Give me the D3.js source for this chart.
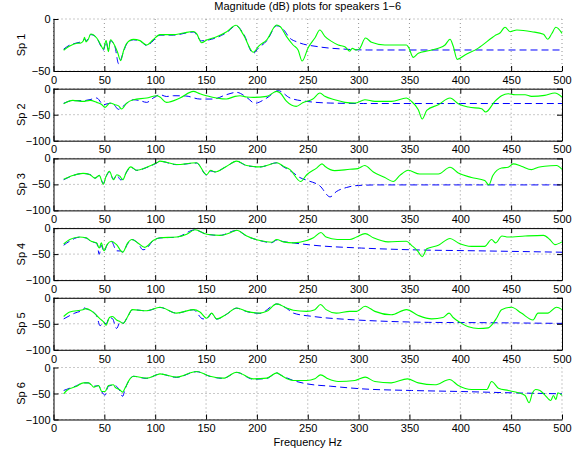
<!DOCTYPE html>
<html>
<head>
<meta charset="utf-8">
<script src="https://cdn.jsdelivr.net/npm/d3@7"></script>
<style>
  body { margin: 0; background: #fff; }
  text { font-family: "Liberation Sans", Arial, sans-serif; font-size: 11px; fill: #000; }
</style>
</head>
<body>
<svg id="canvas" width="576" height="458"></svg>
<script>
/************* Data **************/
var title = "Magnitude (dB) plots for speakers 1\u22126";
var xLabel = "Frequency Hz";
var speakers = ["Sp 1", "Sp 2", "Sp 3", "Sp 4", "Sp 5", "Sp 6"];
var freqTicks = [0, 50, 100, 150, 200, 250, 300, 350, 400, 450, 500];
var dbTicksFirst = [-50, 0];
var dbTicks = [-100, -50, 0];

// measured response (green), [Hz, dB]
var measured1 = [[10,-30],[16,-26],[23,-23.4],[27,-23],[29.4,-21],[30.5,-17.6],[32,-22],[34,-20],[36.6,-14.4],[42.5,-18.3],[46,-24],[49,-29],[51.7,-20.8],[54,-31.4],[56,-20],[60.5,-26.3],[63,-32],[66,-40],[69,-30],[72,-23.4],[78.6,-19.6],[85,-20.8],[91.6,-25],[98,-20],[104.7,-15],[117.8,-15],[127.6,-13.5],[137.5,-12],[140.7,-14],[145.6,-22.8],[150.6,-20.2],[160.4,-17],[170.3,-12.2],[179.5,-6],[186.7,-15],[196.5,-32],[201.5,-26.3],[209.7,-20],[219.5,-5.8],[223,-7.4],[229,-16.7],[235.6,-25],[240.5,-29.8],[244.5,-40.4],[250.4,-27.6],[257,-18.3],[261.9,-10.6],[266.8,-16.7],[273.4,-21.5],[280,-25],[286.5,-26.6],[291.4,-31],[293.7,-28.2],[298,-29.8],[301,-28.5],[306.8,-18.3],[312.7,-22.4],[325.8,-25],[347,-25],[349,-27],[353.8,-36.9],[358.7,-33],[368.5,-30.5],[378.4,-28.2],[385,-25],[389.9,-19.5],[393,-26],[397,-38.8],[404.6,-34.6],[417.7,-28],[430.8,-18.3],[434,-16],[439,-13.5],[444,-8],[449,-12.2],[455.6,-10.6],[470.3,-12.2],[481.8,-14.7],[486,-19.5],[490,-14],[494,-8],[500,-13.8]];
var measured2 = [[10,-28.8],[19,-22.4],[29,-24.4],[35.9,-22.4],[42.5,-26.3],[47,-30],[50.7,-35.9],[55.6,-27.6],[60.5,-30.8],[64,-33],[67,-39.1],[72,-27.6],[78.6,-21.2],[91.6,-17.9],[101.5,-13.5],[104.7,-16],[111,-26.3],[124.4,-17.9],[137.5,-5.1],[144,-9.6],[150.6,-13.5],[170,-19.9],[178.5,-14.7],[183.4,-13.5],[190,-16],[196.5,-16.7],[209.7,-14.7],[219.5,-5.1],[223,-8.3],[229,-24],[238.7,-34],[245,-27],[255,-19.9],[262,-8.3],[266.8,-14.7],[276.6,-21.2],[286.5,-26.3],[296.4,-27.6],[306.2,-21.2],[316,-24.4],[332.4,-24.4],[347,-17.9],[352,-24.4],[358.7,-40.4],[362.6,-58.3],[367,-41.7],[378.4,-30.8],[389.9,-17.9],[398,-28.8],[408,-35.3],[421,-38.5],[424.9,-44.9],[434,-24.4],[440.6,-13.5],[447,-9.6],[453.9,-11.5],[463.7,-11.5],[470,-14.7],[483,-12.8],[493,-8.3],[500,-16]];
var measured3 = [[10,-39.9],[19,-32.7],[29,-28.8],[35.9,-31.4],[40.8,-37.9],[45,-32.7],[49,-49.7],[51.7,-34.6],[55,-24.8],[59,-41.2],[62.2,-31.4],[65.5,-34.6],[68,-41.2],[72,-24.8],[76,-16.3],[81.9,-22.9],[91.6,-17],[101.5,-8.5],[104.7,-5.2],[121,-11.8],[140.7,-8.5],[150.6,-31.4],[154.5,-22.9],[158.8,-26.1],[170.3,-15],[180,-5.2],[190,-13.7],[203,-16.3],[209.7,-13.7],[219.5,-8.5],[226,-15],[232.6,-21.6],[243,-44.4],[249,-31.4],[259,-18.3],[264,-10.5],[266.8,-15],[276.6,-23.5],[291.4,-20.9],[299.4,-19.6],[306,-13.7],[314.5,-26.1],[325.8,-36.6],[334,-44.4],[340.6,-32.7],[348.8,-22.9],[360,-30],[378.4,-30],[389.9,-17],[398,-28.1],[411,-36.6],[424,-42.5],[428,-51],[432,-32.7],[440.6,-18.3],[447,-17],[452,-10.5],[460,-15],[470,-21.6],[476.7,-17],[483,-15],[494.6,-13.7],[500,-21]];
var measured4 = [[10,-30.5],[16,-21.9],[25.6,-17.2],[32,-18.6],[37,-25.2],[42.5,-28.5],[45,-38.4],[47,-28.5],[49.6,-43.7],[52.6,-31.8],[57,-25.2],[62,-31.8],[68,-46.4],[73,-28.5],[77,-21.9],[83,-28.5],[89.8,-37.1],[98,-23.9],[104.7,-18.6],[121,-17.2],[131,-11.9],[139,-3.3],[150.6,-11.9],[163.6,-13.9],[176.7,-6.6],[180,-4],[190,-15.2],[203,-23.9],[214.5,-27.2],[219.5,-22],[226,-26.5],[235.8,-28.5],[249,-23.9],[255.6,-18.6],[263,-8.6],[268,-17.2],[279,-21.9],[291.4,-21.9],[298,-17.2],[306.4,-10.6],[314.5,-18.6],[329,-26.5],[347,-25.2],[352,-33.1],[358,-43.7],[362.6,-55],[367,-39.8],[378.4,-33.1],[389.9,-19.9],[398,-28.5],[411,-35.1],[424,-35.1],[430.8,-21.9],[434.6,-28.5],[441,-15.2],[447,-17.2],[463.7,-15.2],[481.8,-13.9],[488,-21.9],[493,-31.8],[500,-26.5]];
var measured5 = [[10,-36],[16,-27.4],[29,-22.8],[32,-20.8],[37,-24.8],[42.5,-34],[45.8,-40.6],[49,-45.9],[51.7,-52.5],[55,-37.9],[58,-36],[62,-42.6],[65.5,-45.9],[68.6,-49.2],[72,-39.3],[77.6,-22.8],[91.6,-24.8],[104.7,-18.2],[121,-29.4],[137.5,-22.8],[144,-27.4],[150.6,-39.3],[155.5,-29.4],[160.4,-40.6],[170.3,-31.4],[180,-19.5],[190,-26.1],[203,-29.4],[209.7,-26.1],[219.5,-11.6],[229,-19.5],[235.8,-24],[249,-26.1],[257,-22.8],[262.6,-12.9],[268,-22.8],[278,-29.4],[291.4,-26.1],[298,-26.1],[306.4,-16.2],[316,-26.1],[332,-32.7],[347,-22.8],[358.7,-34],[371.8,-40.6],[383,-37.9],[389,-29.4],[393,-37.9],[399.7,-47.2],[408,-55.8],[417.7,-59.1],[427.5,-57.8],[430.8,-52.5],[435.6,-39.3],[440.6,-22.8],[450.4,-18.2],[460,-29.4],[471.5,-42.6],[476.4,-29.4],[486,-29.4],[494.6,-18.2],[500,-22.8]];
var measured6 = [[10,-50.6],[13,-44.2],[22.8,-35.9],[29.4,-29.5],[34,-29.5],[37,-33],[39.6,-37.8],[44.3,-34.6],[47.5,-46.2],[50.7,-46.2],[54,-34.6],[59,-33.3],[60.5,-37.8],[64.8,-42.3],[68,-47.4],[70.3,-39.7],[75.2,-21.8],[78.6,-16.7],[91.6,-20.5],[101.5,-14.1],[104.7,-12.2],[121,-18.6],[140.7,-7.7],[153.8,-16.7],[167,-20.5],[180,-9],[196.5,-21.8],[209.7,-20.5],[219.5,-10.3],[223,-14.1],[229,-21],[235.8,-25],[249,-25],[257,-21.8],[262.6,-14.1],[270,-21.8],[280,-26.9],[296.4,-25],[306.4,-18.6],[316,-26.9],[332,-29.5],[348,-21.8],[358.7,-29.5],[375,-33.3],[389.4,-23.1],[398,-34.6],[411,-42.3],[426,-42.3],[430.8,-26.9],[437.5,-39.7],[447.3,-44.2],[457,-48.7],[463.7,-53.8],[467.6,-67.9],[471,-48.7],[474,-42.3],[478.3,-44.2],[483,-52.5],[489,-63.5],[491.5,-53.8],[494,-61.5],[496,-48.7],[500,-53.8]];

// model response (blue dashed), [Hz, dB]
var model1 = [[10,-29],[16,-25],[23,-23],[29,-21],[30.5,-19],[32,-21],[36.6,-15],[42.5,-18],[46,-25],[49,-30],[51.7,-22],[54,-29],[56,-21],[60.5,-27],[64,-43],[69,-31],[72,-24],[78.6,-20],[85,-21],[91.6,-25.5],[98,-21],[104.7,-15.5],[117.8,-15.5],[137.5,-12.5],[145.6,-21],[150.6,-20.5],[170.3,-13],[179.5,-6.5],[186.7,-14],[196.5,-33],[201.5,-28],[209.7,-21],[219.5,-6.5],[226,-10],[232,-18],[240.5,-22.4],[260,-26.6],[286.5,-29],[309,-29.8],[400,-29.8],[500,-29.8]];
var model2 = [[10,-28],[19,-23],[29,-23],[35.9,-21],[42.5,-17.9],[49,-30.8],[55.6,-28],[60,-32],[63.8,-39.7],[67,-36],[72,-28],[78.6,-21.2],[85,-23],[91.6,-26.3],[98,-18],[104.7,-11.5],[111,-15],[117.8,-13.5],[130,-14],[144,-19.9],[157,-19.9],[170,-11.5],[180,-7],[190,-16.7],[198,-28],[209.7,-17.9],[221,-3.8],[232.6,-17.9],[249,-24.4],[272,-27.6],[305,-28.5],[400,-28.5],[500,-28.5]];
var model3 = [[10,-41],[19,-33],[29,-29],[35.9,-31],[40.8,-38],[45,-33],[49,-48],[51.7,-35],[55,-26],[59,-40],[62.2,-32],[66,-41.2],[68,-40],[72,-26],[76,-17],[81.9,-23],[91.6,-17.5],[101.5,-9],[104.7,-5.5],[121,-12],[140.7,-9],[150.6,-32],[154.5,-24],[158.8,-26],[170.3,-15],[180,-5.5],[190,-14],[203,-16.5],[219.5,-8.5],[226,-16],[236,-28],[242,-36.6],[249,-42],[262,-53],[272,-74],[278,-64],[288,-56],[300,-52],[320,-51],[400,-51],[500,-51]];
var model4 = [[10,-33],[16,-25],[25.6,-17.5],[32,-19],[37,-26],[42.5,-29],[45,-50.4],[47,-33],[49.6,-45],[52.6,-33],[57,-26],[62,-43.7],[66,-44],[68,-46],[73,-30],[77,-22],[83,-29],[88,-41.7],[91,-40],[98,-24],[104.7,-19],[121,-17.5],[139,-3.5],[150.6,-12],[163.6,-14],[180,-4.5],[190,-15.5],[203,-24],[214.5,-28],[219.5,-23],[226,-26],[235.8,-28.5],[255.6,-33],[303,-38.4],[352,-41.7],[417.7,-43.7],[500,-46.4]];
var model5 = [[10,-40.6],[21,-29.4],[29,-23],[30.5,-19.5],[32,-21],[37,-25],[42.5,-35],[45.8,-53.8],[49,-47],[51.7,-50],[55,-38],[58,-40],[62,-59],[65.5,-47],[68.6,-49],[72,-40],[77.6,-23],[91.6,-25],[104.7,-18.5],[121,-29.5],[137.5,-23],[147,-40.6],[152,-38],[155.5,-30],[160.4,-41],[170.3,-31.5],[180,-20],[190,-26.5],[203,-30],[219.5,-12],[229,-20],[235.8,-29.4],[255.6,-36],[286.5,-41.3],[319,-44.6],[368.5,-47.2],[417.7,-47.8],[500,-49.2]];
var model6 = [[10,-44.2],[13,-42],[22.8,-35],[29.4,-29.5],[34,-29.5],[39.6,-36],[44.3,-35],[47.5,-47],[50.7,-53],[54,-36],[59,-34],[64.8,-43],[68,-55.5],[70.3,-42],[75.2,-22],[78.6,-17],[91.6,-21],[104.7,-12.5],[121,-19],[140.7,-8],[153.8,-17],[167,-21],[180,-9.5],[196.5,-22.5],[209.7,-21],[219.5,-10.5],[223,-14.1],[235.8,-25],[249,-31.4],[272,-35.9],[303,-41],[352,-44.2],[401,-46.2],[450.4,-48.7],[500,-50.6]];

var measured = [measured1, measured2, measured3, measured4, measured5, measured6];
var model = [model1, model2, model3, model4, model5, model6];


/********** Layout **********/
var svg = d3.select("#canvas");
var left = 53.5, right = 562;
var panelTop = 19, panelStep = 69.7, panelH = 52;
var tickLen = 5;

var x = d3.scaleLinear().domain([0, 500]).range([left, right]);


/********** Panels **********/
speakers.forEach(function(name, i) {
    var top = panelTop + panelStep * i;
    var ticks = i === 0 ? dbTicksFirst : dbTicks;
    var y = d3.scaleLinear().domain([ticks[0], 0]).range([top + panelH, top]);
    var boxed = i > 0 && i < 5;

    var g = svg.append("g").attr("class", "panel");

    // grid
    g.selectAll("line.vgrid")
        .data(freqTicks)
        .enter()
        .append("line")
        .attr("x1", function(d) { return x(d); })
        .attr("x2", function(d) { return x(d); })
        .attr("y1", top)
        .attr("y2", top + panelH)
        .attr("stroke", "#777")
        .attr("stroke-width", 0.8)
        .attr("stroke-dasharray", "1,3");

    g.selectAll("line.hgrid")
        .data(ticks)
        .enter()
        .append("line")
        .attr("x1", left)
        .attr("x2", right)
        .attr("y1", function(d) { return y(d); })
        .attr("y2", function(d) { return y(d); })
        .attr("stroke", "#777")
        .attr("stroke-width", 0.8)
        .attr("stroke-dasharray", "1,3");

    var line = d3.line()
        .x(function(d) { return x(d[0]); })
        .y(function(d) { return y(d[1]); })
        .curve(d3.curveMonotoneX);

    g.append("path")
        .datum(model[i])
        .attr("d", line)
        .attr("fill", "none")
        .attr("stroke", "#0000ff")
        .attr("stroke-width", 1)
        .attr("stroke-dasharray", "7,4");

    g.append("path")
        .datum(measured[i])
        .attr("d", line)
        .attr("fill", "none")
        .attr("stroke", "#00ff00")
        .attr("stroke-width", 1.1);

    // axes
    var xAxis = d3.axisBottom(x)
        .tickValues(freqTicks)
        .tickSizeInner(-tickLen)
        .tickSizeOuter(0)
        .tickPadding(5)
        .tickFormat(d3.format("d"));

    var yAxis = d3.axisLeft(y)
        .tickValues(ticks)
        .tickSizeInner(-tickLen)
        .tickSizeOuter(0)
        .tickPadding(3)
        .tickFormat(function(d) { return d < 0 ? "\u2212" + Math.abs(d) : d; });

    var gx = g.append("g")
        .attr("transform", "translate(0," + (top + panelH) + ")")
        .call(xAxis);
    var gy = g.append("g")
        .attr("transform", "translate(" + left + ",0)")
        .call(yAxis);

    [gx, gy].forEach(function(a) {
        a.selectAll("text").style("font-family", null).style("font-size", null).attr("font-family", null).attr("font-size", null);
        a.selectAll(".tick line").attr("stroke", "#000");
        a.select(".domain").attr("stroke", "#000");
    });
    gx.attr("font-family", null).attr("font-size", null);
    gy.attr("font-family", null).attr("font-size", null);

    if (boxed) {
        g.append("g")
            .attr("transform", "translate(0," + top + ")")
            .call(d3.axisTop(x).tickValues(freqTicks).tickSizeInner(-tickLen).tickSizeOuter(0).tickFormat(""))
            .attr("font-family", null);
        g.append("g")
            .attr("transform", "translate(" + right + ",0)")
            .call(d3.axisRight(y).tickValues(ticks).tickSizeInner(-tickLen).tickSizeOuter(0).tickFormat(""))
            .attr("font-family", null);
    }

    svg.append("text")
        .attr("transform", "translate(25," + (top + panelH / 2) + ") rotate(-90)")
        .attr("text-anchor", "middle")
        .text(name);
});


/********** Titles **********/
svg.append("text")
    .attr("x", (left + right) / 2)
    .attr("y", 9.5)
    .attr("text-anchor", "middle")
    .text(title);

svg.append("text")
    .attr("x", (left + right) / 2)
    .attr("y", 446)
    .attr("text-anchor", "middle")
    .text(xLabel);
</script>
</body>
</html>
